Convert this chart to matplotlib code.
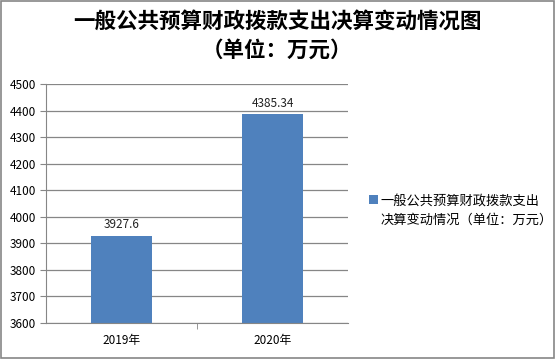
import matplotlib.pyplot as plt
from matplotlib.patches import Rectangle

plt.rcParams['font.family'] = ['Noto Sans CJK SC', 'DejaVu Sans']

years = ['2019年', '2020年']
values = [3927.6, 4385.34]
value_labels = ['3927.6', '4385.34']
series_name = '一般公共预算财政拨款支出\n决算变动情况（单位：万元）'
title = '一般公共预算财政拨款支出决算变动情况图\n（单位：万元）'

fig = plt.figure(figsize=(5.55, 3.59), dpi=100)
ax = fig.add_axes([46 / 555, 1 - 323 / 359, 302 / 555, 239 / 359])

x = range(len(years))
bars = ax.bar(x, values, width=0.4, color='#4F81BD', label=series_name, zorder=2)
for xi, v, lab in zip(x, values, value_labels):
    ax.text(xi, v + 18, lab, ha='center', va='bottom', fontsize=8.5, color='#222222')

ax.set_xlim(-0.5, 1.5)
ax.set_ylim(3600, 4500)
ax.set_yticks(range(3600, 4501, 100))
ax.set_xticks(x)
ax.set_xticklabels(years)
ax.set_xticks([0.5], minor=True)
ax.tick_params(axis='x', which='major', length=0, pad=8, labelsize=8.5)
ax.tick_params(axis='x', which='minor', length=4, color='#868686')
ax.tick_params(axis='y', length=4, color='#868686', labelsize=8.5, pad=3)
ax.grid(axis='y', color='#868686', linewidth=0.9, zorder=0)
for side in ['top', 'right']:
    ax.spines[side].set_visible(False)
for side in ['left', 'bottom']:
    ax.spines[side].set_color('#868686')

fig.suptitle(title, fontsize=15.5, fontweight='bold', y=0.97, linespacing=1.45)

leg = ax.legend(loc='center left', bbox_to_anchor=(1.03, 0.47), frameon=False,
                fontsize=9.5, handlelength=0.65, handleheight=0.65, handletextpad=0.25)
leg.get_texts()[0].set_linespacing(1.55)
# put the square on the first line of the wrapped label
for col in leg._legend_handle_box.get_children():
    for row in col.get_children():
        row.align = 'top'

fig.patches.append(Rectangle((0.001, 0.002), 0.997, 0.995, transform=fig.transFigure,
                             fill=False, edgecolor='#868686', linewidth=1.2))

fig.savefig('out.png', dpi=100)
